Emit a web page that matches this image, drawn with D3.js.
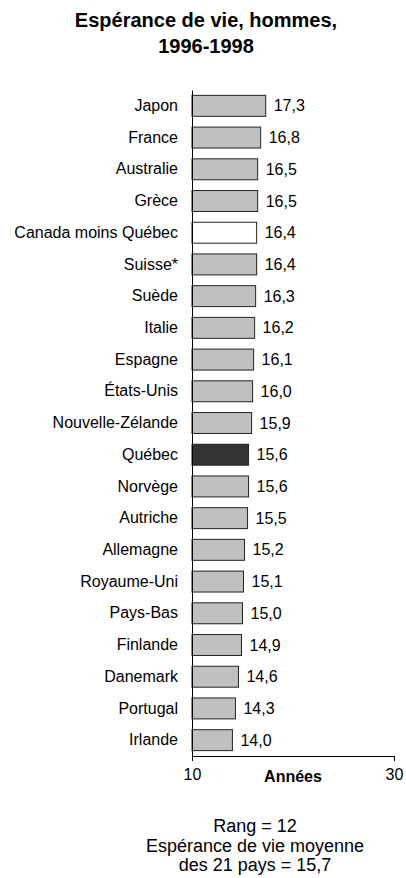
<!DOCTYPE html>
<html>
<head>
<meta charset="utf-8">
<script src="https://cdn.jsdelivr.net/npm/d3@7"></script>
<style>
  body { margin: 0; background: #fff; }
  text { font-family: "Liberation Sans", Arial, sans-serif; fill: #000; }
</style>
</head>
<body>
<script>
// data
var pays = ["Japon", "France", "Australie", "Grèce", "Canada moins Québec", "Suisse*", "Suède",
  "Italie", "Espagne", "États-Unis", "Nouvelle-Zélande", "Québec", "Norvège", "Autriche",
  "Allemagne", "Royaume-Uni", "Pays-Bas", "Finlande", "Danemark", "Portugal", "Irlande"];
var valeurs = [17.3, 16.8, 16.5, 16.5, 16.4, 16.4, 16.3, 16.2, 16.1, 16.0, 15.9, 15.6, 15.6,
  15.5, 15.2, 15.1, 15.0, 14.9, 14.6, 14.3, 14.0];
var ticksX = [10, 30];
var titre = ["Espérance de vie, hommes,", "1996-1998"];
var notes = ["Rang = 12", "Espérance de vie moyenne", "des 21 pays = 15,7"];

var data = pays.map(function(p, i) { return {pays: p, val: valeurs[i]}; });

var width = 406, height = 878;
var margin = {top: 90, left: 192, right: 12, bottom: 122};

var svg = d3.select("body").append("svg")
  .attr("width", width)
  .attr("height", height);

// set the ranges
var x = d3.scaleLinear().domain([10, 30]).range([margin.left, 394]);
var y = d3.scaleBand().domain(pays).range([margin.top, 756]).paddingInner(0.34).paddingOuter(0.17);

var fmt = function(v) { return d3.format(".1f")(v).replace(".", ","); };

// title
svg.append("text")
  .attr("text-anchor", "middle")
  .style("font-size", "20px").style("font-weight", "bold")
  .selectAll("tspan").data(titre).enter().append("tspan")
  .attr("x", 206).attr("y", function(d, i) { return 27 + i * 26; })
  .text(function(d) { return d; });

// bars
svg.selectAll(".bar").data(data).enter().append("rect")
  .attr("x", x(10))
  .attr("y", function(d) { return y(d.pays); })
  .attr("width", function(d) { return x(d.val) - x(10); })
  .attr("height", y.bandwidth())
  .attr("fill", function(d) {
    if (d.pays == "Québec") return "#333333";
    if (d.pays == "Canada moins Québec") return "#ffffff";
    return "#c0c0c0";
  })
  .attr("stroke", "#222").attr("stroke-width", 1);

// value labels
svg.selectAll(".val").data(data).enter().append("text")
  .attr("x", function(d) { return x(d.val) + 8; })
  .attr("y", function(d) { return y(d.pays) + y.bandwidth() / 2; })
  .attr("dy", "0.35em")
  .style("font-size", "16px")
  .text(function(d) { return fmt(d.val); });

// Y axis
var yAxis = svg.append("g")
  .attr("transform", "translate(" + x(10) + ",0)")
  .call(d3.axisLeft(y).tickSize(0).tickPadding(14));
yAxis.select(".domain").attr("stroke", "#000");
yAxis.selectAll("text").style("font-size", "16px").style("font-family", "Liberation Sans, Arial, sans-serif");

// X axis
var xAxis = svg.append("g")
  .attr("transform", "translate(0,756)")
  .call(d3.axisBottom(x).tickValues(ticksX).tickSize(5).tickSizeOuter(0).tickPadding(8));
xAxis.select(".domain").attr("stroke", "#000");
xAxis.selectAll("text").style("font-size", "16px").style("font-family", "Liberation Sans, Arial, sans-serif");

svg.append("text")
  .attr("x", x(20)).attr("y", 782)
  .attr("text-anchor", "middle")
  .style("font-size", "16px").style("font-weight", "bold")
  .text("Années");

// notes
svg.append("text")
  .attr("text-anchor", "middle")
  .style("font-size", "18px")
  .selectAll("tspan").data(notes).enter().append("tspan")
  .attr("x", 255).attr("y", function(d, i) { return 832 + i * 19.5; })
  .text(function(d) { return d; });
</script>
</body>
</html>
